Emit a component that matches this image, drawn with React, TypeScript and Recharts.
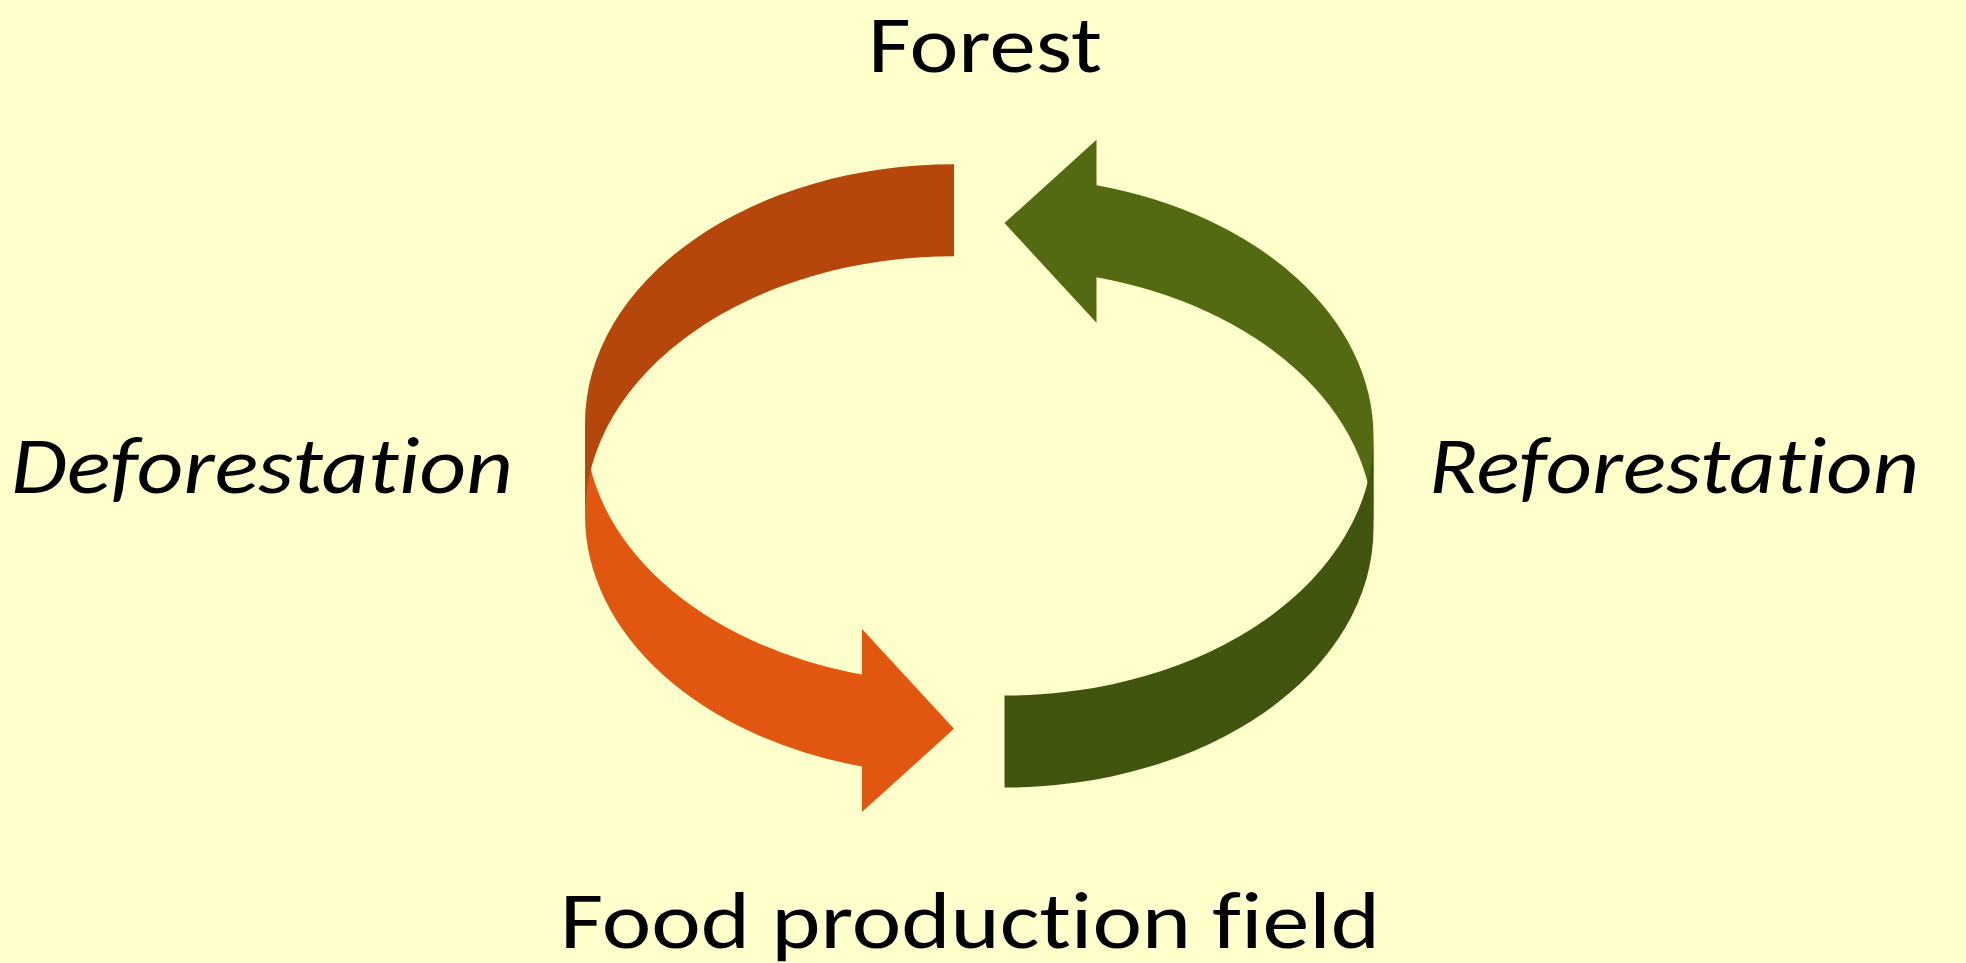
import { Scatter, ScatterChart, XAxis, YAxis } from "recharts";

const WIDTH = 1966;
const HEIGHT = 963;

// stages of the cycle, clockwise from the top
const stageNames = ["Forest", "Reforestation", "Food production field", "Deforestation"];
const stageItalic = [false, true, false, true];
// anchor of each label (start of the text, baseline) in slide units
const stageX = [868, 1429, 560, 11];
const stageY = [72, 493, 948, 493];
const stageLength = [234, 490, 820, 502];

// the two curved arrows, each drawn as a back band and a front band with the head
const arrowNames = ["Deforestation", "Reforestation"];
const arrowX = [769.5, 1189];
const arrowY = [492.2, 459.6];
const arrowTurn = [0, 180];
const frontColors = ["#E2570F", "#536A12"];
const backColors = ["#B5460C", "#42550E"];

const ARROW_W = 369;
const ARROW_H = 656;
const SHAFT = 92;
const HEAD_W = 183;
const HEAD_L = 92;
const LABEL_FONT = "Calibri, Carlito, Lato, sans-serif";

const stageRows = stageNames.map((name, i) => ({
  name,
  x: stageX[i],
  y: stageY[i],
  italic: stageItalic[i],
  length: stageLength[i]
}));

const arrowRows = arrowNames.map((name, i) => ({
  name,
  x: arrowX[i],
  y: arrowY[i],
  turn: arrowTurn[i],
  front: frontColors[i],
  back: backColors[i]
}));

// same construction as a PowerPoint curved right arrow: two equal ellipses shifted by the shaft width
function CurvedArrow(props: any) {
  const { cx, cy, payload } = props;
  if (cx == null || cy == null) return null;
  const w = ARROW_W;
  const h = ARROW_H;
  const th = SHAFT;
  const aw = HEAD_W;
  const ah = HEAD_L;
  const hR = h / 2 - (th + aw) / 4;
  const x1 = w - ah;
  const dy = (hR * Math.sqrt(w * w - ah * ah)) / w;
  const dh = (aw - th) / 2;
  const y5 = hR + dy;
  const y7 = hR + th + dy;

  const front =
    `M0,${hR} A${w},${hR} 0 0 0 ${x1},${y5} L${x1},${y5 - dh} L${w},${h - aw / 2} ` +
    `L${x1},${y7 + dh} L${x1},${y7} A${w},${hR} 0 0 1 0,${hR + th} Z`;
  const back = `M${w},0 A${w},${hR} 0 0 0 0,${hR} L0,${hR + th} A${w},${hR} 0 0 1 ${w},${th} Z`;

  return (
    <g transform={`translate(${cx - w / 2},${cy - h / 2}) rotate(${payload.turn} ${w / 2} ${h / 2})`}>
      <path d={front} fill={payload.front} />
      <path d={back} fill={payload.back} />
    </g>
  );
}

function StageLabel(props: any) {
  const { cx, cy, payload } = props;
  if (cx == null || cy == null) return null;
  return (
    <text
      x={cx}
      y={cy}
      fill="#000000"
      fontFamily={LABEL_FONT}
      fontSize={81}
      fontStyle={payload.italic ? "italic" : "normal"}
      textLength={payload.length}
      lengthAdjust="spacingAndGlyphs"
      style={{ fontVariantLigatures: "none", fontFeatureSettings: '"liga" 0, "clig" 0, "dlig" 0' }}
    >
      {payload.name}
    </text>
  );
}

export default function App() {
  return (
    <div
      style={{
        position: "fixed",
        left: 0,
        top: 0,
        width: WIDTH,
        height: HEIGHT,
        background: "#FFFFCC"
      }}
    >
      <ScatterChart width={WIDTH} height={HEIGHT} margin={{ top: 0, right: 0, bottom: 0, left: 0 }}>
        <XAxis type="number" dataKey="x" domain={[0, WIDTH]} hide />
        <YAxis type="number" dataKey="y" domain={[0, HEIGHT]} reversed hide />
        <Scatter
          name="arrows"
          data={arrowRows}
          shape={(p: any) => <CurvedArrow {...p} />}
          isAnimationActive={false}
        />
        <Scatter
          name="stages"
          data={stageRows}
          shape={(p: any) => <StageLabel {...p} />}
          isAnimationActive={false}
        />
      </ScatterChart>
    </div>
  );
}
